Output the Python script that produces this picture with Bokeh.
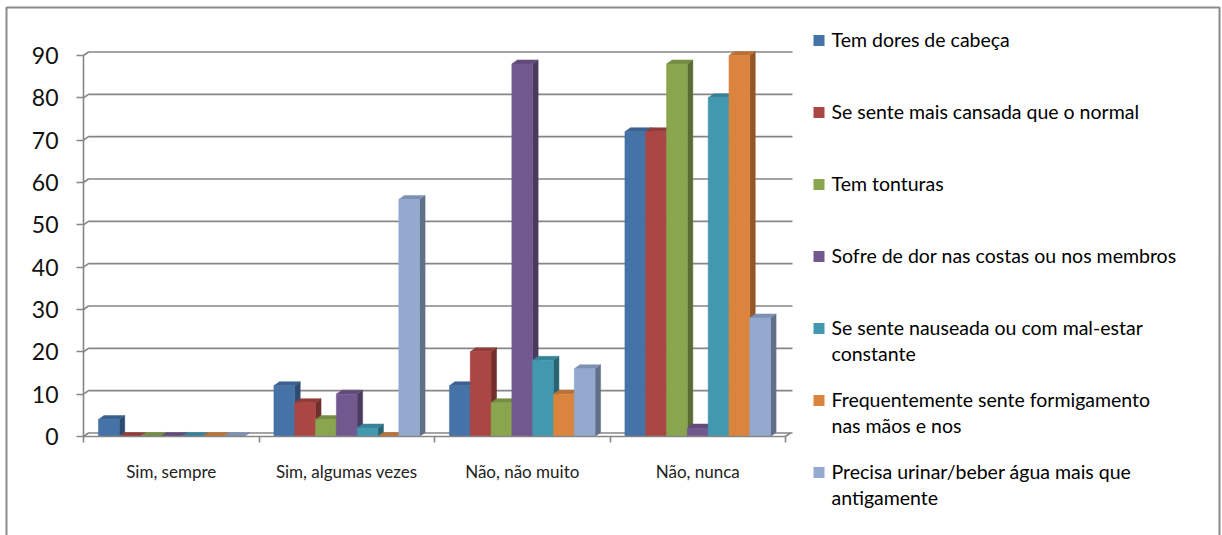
from bokeh.plotting import figure
from bokeh.models import Range1d, LinearAxis, FixedTicker, ColumnDataSource
from bokeh.core.properties import value
from bokeh.embed import file_html
from bokeh.resources import INLINE

# ---------------------------------------------------------------- data
categories = ["Sim, sempre", "Sim, algumas vezes", "Não, não muito", "Não, nunca"]

series_names = [
    "Tem dores de cabeça",
    "Se sente mais cansada que o normal",
    "Tem tonturas",
    "Sofre de dor nas costas ou nos membros",
    "Se sente nauseada ou com mal-estar\nconstante",
    "Frequentemente sente formigamento\nnas mãos e nos",
    "Precisa urinar/beber água mais que\nantigamente",
]

headaches = [4, 12, 12, 72]
tiredness = [0, 8, 20, 72]
dizziness = [0, 4, 8, 88]
back_pain = [0, 10, 88, 2]
nausea = [0, 2, 18, 80]
tingling = [0, 0, 10, 90]
thirst = [0, 56, 16, 28]

y_ticks = [0, 10, 20, 30, 40, 50, 60, 70, 80, 90]

series_values = [headaches, tiredness, dizziness, back_pain, nausea, tingling, thirst]
series_colors = ["#4572A7", "#AA4643", "#89A54E", "#71588F", "#4198AF", "#DB843D", "#93A9CF"]

# ---------------------------------------------------------------- layout (pixels)
W, H = 1222, 535
ORIGIN_X, ORIGIN_Y = 83, 436   # pixel position of the value 0 / first category edge
TOP_TICK_PX = 55               # pixel row of the highest tick
CAT_PX = 175.5                 # width of one category slot
WALL_RIGHT_PX = 792            # right end of the back wall
UNIT_PX = (ORIGIN_Y - TOP_TICK_PX) / max(y_ticks)

BAR_DX_PX, BAR_DY_PX = 5.5, 4.0     # depth of the 3-D columns
WALL_DX_PX, WALL_DY_PX = 5.0, 3.5   # offset of the back wall
GAP = 0.17                          # share of a slot left empty


def px_x(px):
    return (px - ORIGIN_X) / CAT_PX


def px_y(px):
    return (ORIGIN_Y - px) / UNIT_PX


def shade(hex_color, f):
    r, g, b = (int(hex_color[i:i + 2], 16) for i in (1, 3, 5))
    return "#%02x%02x%02x" % (int(r * f), int(g * f), int(b * f))


p = figure(width=W, height=H,
           x_range=Range1d(px_x(0), px_x(W)), y_range=Range1d(px_y(H), px_y(0)),
           output_backend="svg", toolbar_location=None,
           x_axis_type=None, y_axis_type=None, min_border=0)
p.outline_line_color = None
p.background_fill_color = "white"
p.border_fill_color = "white"

AXIS_GREY = "#868686"
FONT = "Lato"
n_cat = len(categories)

# ---------------------------------------------------------------- back wall grid
wdx = WALL_DX_PX / CAT_PX
wdy = WALL_DY_PX / UNIT_PX
x_wall_end = px_x(WALL_RIGHT_PX)
grid_xs = [[0, wdx, x_wall_end] for _ in y_ticks] + [[n_cat, n_cat + wdx]]
grid_ys = [[t, t + wdy, t + wdy] for t in y_ticks] + [[0, wdy]]
p.multi_line(grid_xs, grid_ys, line_color=AXIS_GREY, line_width=1.6)

# ---------------------------------------------------------------- axes (drawn at 0)
yaxis = LinearAxis(ticker=FixedTicker(ticks=y_ticks), bounds=(0, max(y_ticks)),
                   fixed_location=0)
yaxis.axis_line_color = AXIS_GREY
yaxis.axis_line_width = 1.6
yaxis.major_tick_line_color = AXIS_GREY
yaxis.major_tick_line_width = 1.6
yaxis.major_tick_out = 7
yaxis.major_tick_in = 0
yaxis.minor_tick_line_color = None
yaxis.major_label_text_font = FONT
yaxis.major_label_text_font_size = "23px"
yaxis.major_label_text_color = "#111111"
yaxis.major_label_standoff = 18
p.add_layout(yaxis, "left")

centers = [i + 0.5 for i in range(n_cat)]
xaxis = LinearAxis(ticker=FixedTicker(ticks=centers, minor_ticks=list(range(n_cat + 1))),
                   bounds=(0, n_cat), fixed_location=0)
xaxis.major_label_overrides = {c: name for c, name in zip(centers, categories)}
xaxis.axis_line_color = AXIS_GREY
xaxis.axis_line_width = 1.6
xaxis.major_tick_line_color = None
xaxis.major_tick_out = 0
xaxis.major_tick_in = 0
xaxis.minor_tick_line_color = AXIS_GREY
xaxis.minor_tick_line_width = 1.6
xaxis.minor_tick_out = 6
xaxis.minor_tick_in = 0
xaxis.major_label_text_font = FONT
xaxis.major_label_text_font_size = "17px"
xaxis.major_label_text_color = "#222222"
xaxis.major_label_standoff = 18
p.add_layout(xaxis, "below")

# ---------------------------------------------------------------- 3-D columns
bdx = BAR_DX_PX / CAT_PX
bdy = BAR_DY_PX / UNIT_PX
bar_w = (1 - GAP) / len(series_values)

front = dict(left=[], right=[], top=[], color=[])
sides = dict(xs=[], ys=[], color=[])
tops = dict(xs=[], ys=[], color=[])
for c in range(n_cat):
    for s, (vals, col) in enumerate(zip(series_values, series_colors)):
        v = vals[c]
        l = c + GAP / 2 + s * bar_w
        r = l + bar_w
        front["left"].append(l)
        front["right"].append(r)
        front["top"].append(v)
        front["color"].append(col)
        sides["xs"].append([r, r + bdx, r + bdx, r])
        sides["ys"].append([0, bdy, v + bdy, v])
        sides["color"].append(shade(col, 0.66))
        tops["xs"].append([l, l + bdx, r + bdx, r])
        tops["ys"].append([v, v + bdy, v + bdy, v])
        tops["color"].append(shade(col, 0.86))

p.patches("xs", "ys", source=ColumnDataSource(sides), fill_color="color",
          line_color="color", line_width=0.5)
p.patches("xs", "ys", source=ColumnDataSource(tops), fill_color="color",
          line_color="color", line_width=0.5)
p.quad(left="left", right="right", bottom=0, top="top", source=ColumnDataSource(front),
       fill_color="color", line_color="color", line_width=0.5)

# ---------------------------------------------------------------- legend
LEG_SQ_L, LEG_SQ_SIZE, LEG_TEXT_X = 813, 11, 831
LEG_FIRST_Y, LEG_PITCH, LEG_LINE = 39, 72, 25.5
sq = dict(left=[], right=[], top=[], bottom=[], color=[])
txt = dict(x=[], y=[], text=[])
for i, (name, col) in enumerate(zip(series_names, series_colors)):
    cy = LEG_FIRST_Y + i * LEG_PITCH
    sq["left"].append(px_x(LEG_SQ_L))
    sq["right"].append(px_x(LEG_SQ_L + LEG_SQ_SIZE))
    sq["top"].append(px_y(cy - LEG_SQ_SIZE / 2 + 1))
    sq["bottom"].append(px_y(cy + LEG_SQ_SIZE / 2 + 1))
    sq["color"].append(col)
    for j, line in enumerate(name.split("\n")):
        txt["x"].append(px_x(LEG_TEXT_X))
        txt["y"].append(px_y(cy + j * LEG_LINE))
        txt["text"].append(line)
p.quad(left="left", right="right", top="top", bottom="bottom", source=ColumnDataSource(sq),
       fill_color="color", line_color=None)
p.text(x="x", y="y", text="text", source=ColumnDataSource(txt),
       text_font=value(FONT), text_font_size="19.5px", text_color="#000000",
       text_baseline="middle", text_align="left")

# ---------------------------------------------------------------- chart border
p.line(x=[px_x(6), px_x(6), px_x(1219), px_x(1219)],
       y=[px_y(H + 10), px_y(7), px_y(7), px_y(H + 10)],
       line_color="#8a8a8a", line_width=2)

open("out.html", "w").write(file_html(p, INLINE))
